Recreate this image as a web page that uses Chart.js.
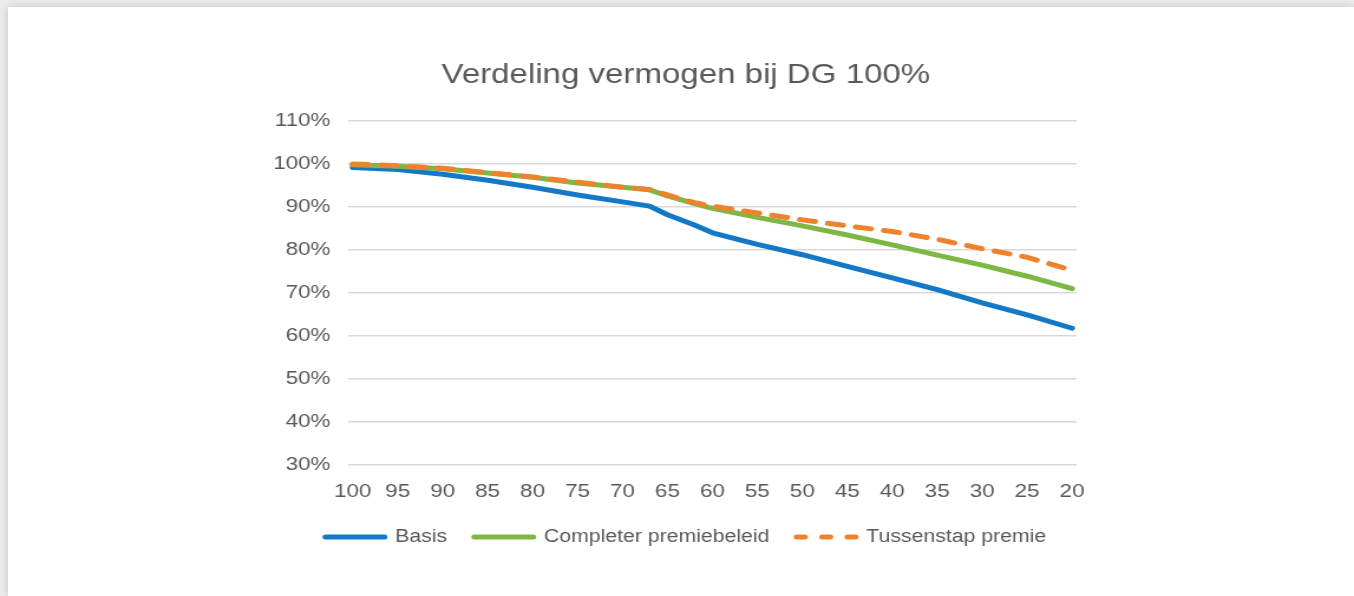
<!DOCTYPE html>
<html>
<head>
<meta charset="utf-8">
<script src="https://cdn.jsdelivr.net/npm/chart.js@4.4.1/dist/chart.umd.min.js"></script>
<style>
  html, body { margin: 0; padding: 0; width: 1354px; height: 596px; overflow: hidden; background: #ececec; }
  #card { position: absolute; left: 8px; top: 7px; right: 0; bottom: 0; background: #ffffff; box-shadow: 0 0 8px rgba(0,0,0,0.18); }
  #wrap { position: absolute; left: 0; top: 0; width: 1147px; height: 596px; transform-origin: 0 0; transform: scaleX(1.18047); }
</style>
</head>
<body>
<div id="card"></div>
<div id="wrap"><canvas id="c" width="1147" height="596"></canvas></div>
<script>
const chartTitle = 'Verdeling vermogen bij DG 100%';
const ages = [100, 95, 90, 85, 80, 75, 70, 67, 65, 62, 60, 55, 50, 45, 40, 35, 30, 25, 20];
const basis = [99.2, 98.7, 97.6, 96.2, 94.6, 92.8, 91.2, 90.2, 88.2, 85.8, 84.0, 81.3, 78.9, 76.2, 73.5, 70.8, 67.7, 64.9, 61.8];
const completer = [99.8, 99.5, 98.9, 97.9, 96.9, 95.6, 94.6, 94.0, 92.6, 90.8, 89.7, 87.6, 85.6, 83.5, 81.2, 78.8, 76.5, 73.9, 71.0];
const tussenstap = [100.0, 99.6, 99.0, 98.0, 97.0, 95.8, 94.6, 94.1, 92.8, 91.0, 90.2, 88.6, 87.0, 85.6, 84.3, 82.5, 80.3, 78.3, 75.3];
const seriesNames = ['Basis', 'Completer premiebeleid', 'Tussenstap premie'];
const xTicks = [100, 95, 90, 85, 80, 75, 70, 65, 60, 55, 50, 45, 40, 35, 30, 25, 20];
const yTicks = [30, 40, 50, 60, 70, 80, 90, 100, 110];

const FONT = '"Liberation Sans", Arial, sans-serif';
const TXT = '#595959';
const LEGEND_DASH = [7, 14.5];
const toPts = arr => arr.map((v, i) => ({ x: ages[i], y: v }));

new Chart(document.getElementById('c'), {
  type: 'line',
  data: {
    datasets: [
      { label: seriesNames[0], order: 3, data: toPts(basis), borderColor: '#1478C8', backgroundColor: '#1478C8', borderWidth: 5, pointRadius: 0, tension: 0, borderCapStyle: 'round', borderJoinStyle: 'round', pointStyle: 'line' },
      { label: seriesNames[1], order: 2, data: toPts(completer), borderColor: '#7DB844', backgroundColor: '#7DB844', borderWidth: 5, pointRadius: 0, tension: 0, borderCapStyle: 'round', borderJoinStyle: 'round', pointStyle: 'line' },
      { label: seriesNames[2], order: 1, data: toPts(tussenstap), borderColor: '#F0822D', backgroundColor: '#F0822D', borderWidth: 5, pointRadius: 0, tension: 0, borderDash: [13, 11], borderCapStyle: 'round', borderJoinStyle: 'round', pointStyle: 'line' }
    ]
  },
  options: {
    responsive: false,
    animation: false,
    layout: { padding: { left: 220, right: 205, top: 0, bottom: 40 } },
    plugins: {
      title: {
        display: true, text: chartTitle, color: TXT,
        font: { family: FONT, size: 28, weight: 'normal' },
        padding: { top: 58.5, bottom: 28.9 }
      },
      legend: {
        position: 'bottom',
        labels: {
          usePointStyle: true, pointStyleWidth: 50, boxHeight: 18,
          color: TXT, font: { family: FONT, size: 18 }, padding: 23,
          generateLabels: chart => {
            const items = Chart.defaults.plugins.legend.labels.generateLabels(chart);
            items.forEach(it => {
              const ds = chart.data.datasets[it.datasetIndex];
              it.lineDash = ds.borderDash ? LEGEND_DASH : [];
              it.lineCap = 'round';
              it.lineWidth = 5;
            });
            items.sort((a, b) => a.datasetIndex - b.datasetIndex);
            return items;
          }
        }
      },
      tooltip: { enabled: false }
    },
    scales: {
      x: {
        type: 'linear', reverse: true, min: 19.5, max: 100.5,
        afterBuildTicks: s => { s.ticks = xTicks.map(v => ({ value: v })); },
        afterFit: s => { s.height = 40; },
        grid: { display: false, drawTicks: false },
        border: { display: false },
        ticks: { autoSkip: false, maxRotation: 0, color: TXT, font: { family: FONT, size: 19 }, padding: 15 }
      },
      y: {
        min: 30, max: 110,
        afterBuildTicks: s => { s.ticks = yTicks.map(v => ({ value: v })); },
        afterFit: s => { s.width = 75; },
        grid: { color: '#d9d9d9', lineWidth: 1.5, drawTicks: false },
        border: { display: false },
        ticks: { color: TXT, font: { family: FONT, size: 19 }, padding: 15, callback: v => v + '%' }
      },
      yRight: {
        position: 'right', display: true,
        afterFit: s => { s.width = 30; },
        grid: { display: false, drawTicks: false },
        border: { display: false },
        ticks: { display: false }
      }
    }
  }
});
</script>
</body>
</html>
